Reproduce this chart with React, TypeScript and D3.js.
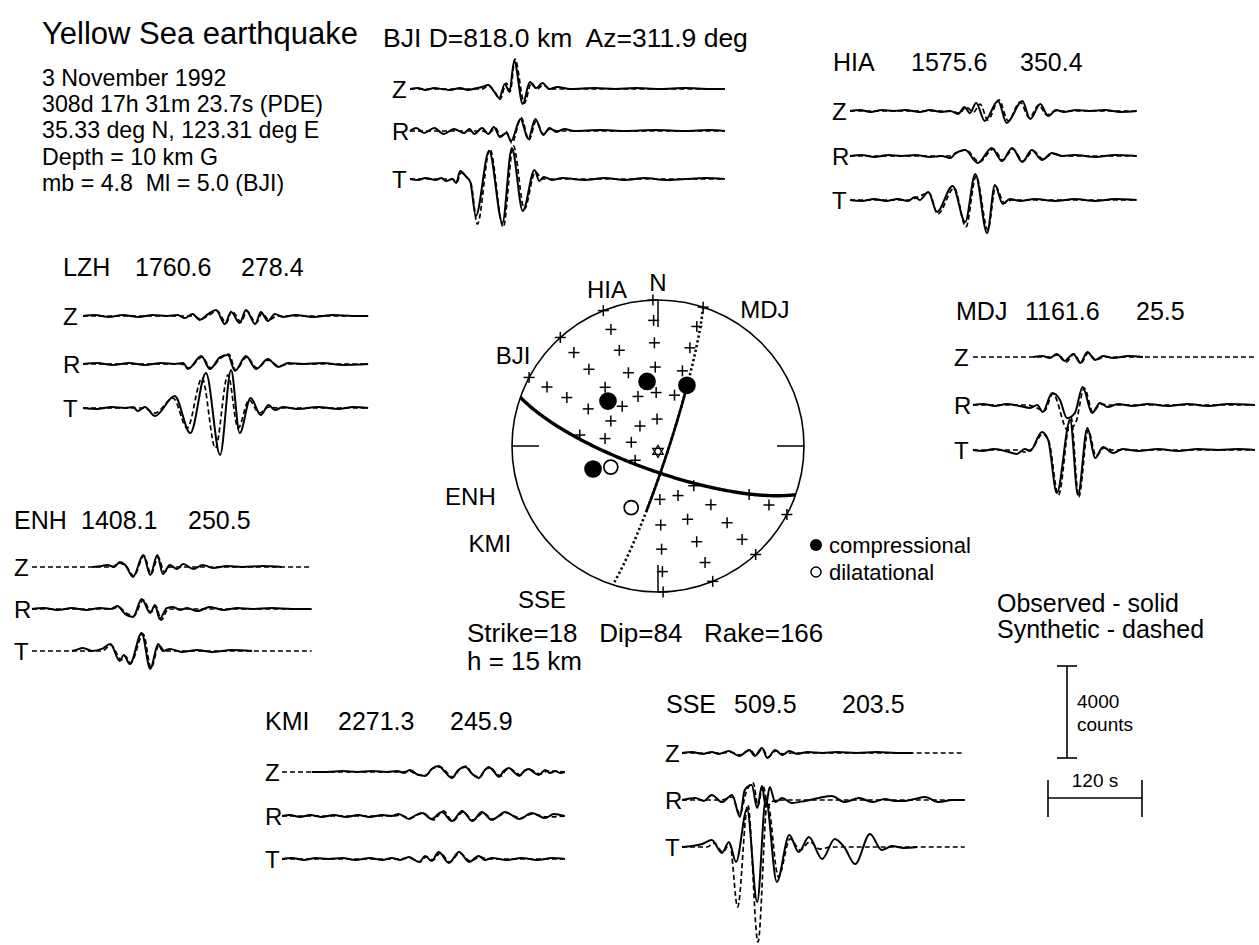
import React from "react";
import * as d3 from "d3";

// ---------------- event & mechanism ----------------
const TITLE = "Yellow Sea earthquake";
const EVENT_LINES = [
  "3 November 1992",
  "308d 17h 31m 23.7s (PDE)",
  "35.33 deg N, 123.31 deg E",
  "Depth = 10 km G",
  "mb = 4.8  Ml = 5.0 (BJI)",
];
const STRIKE = 18;
const DIP = 84;
const RAKE = 166;
const H_KM = 15;

// ---------------- stations ----------------
const STATION_CODES = ["BJI", "HIA", "LZH", "MDJ", "ENH", "KMI", "SSE"];
const DISTANCES = [818.0, 1575.6, 1760.6, 1161.6, 1408.1, 2271.3, 509.5];
const AZIMUTHS = [311.9, 350.4, 278.4, 25.5, 250.5, 245.9, 203.5];
const POLARITY = ["C", "C", "", "C", "C", "D", "D"];
const TAKEOFF = [38, 37, 0, 38, 39, 29, 38];
const COMPONENTS = ["Z", "R", "T"];

// grid of "+" readings: [azimuth deg, takeoff deg]
const PLUS_POINTS = [
  [18, 30], [18, 45], [18, 60], [18, 75], [18, 90],
  [358, 15], [358, 30], [358, 45], [358, 60], [358, 75], [358, 90],
  [338, 30], [338, 45], [338, 60], [338, 75], [338, 90],
  [318, 15], [318, 30], [318, 45], [318, 60], [318, 75], [318, 90],
  [298, 30], [298, 45], [298, 60], [298, 75], [298, 90],
  [278, 15], [278, 30], [278, 45], [238, 15],
  [178, 30], [178, 45], [178, 60], [178, 75], [178, 90],
  [158, 30], [158, 45], [158, 60], [158, 75], [158, 90],
  [138, 30], [138, 45], [138, 60], [138, 75], [138, 90],
  [118, 60], [118, 75], [118, 90],
];
const STAR_POINT = [180, 3];

// ---------------- waveforms: [time s, amplitude counts, ...] ----------------
const BJI_Z_OBS = [0,0, 10,40, 20,-40, 31,40, 41,0, 51,-40, 64,40, 74,-40, 84,30, 92,90, 100,170, 107,-90, 114,-390, 121,220, 127,-130, 133,1220, 144,-650, 153,300, 161,40, 169,260, 178,0, 188,90, 205,0, 236,40, 262,0, 287,40, 319,0, 351,40, 383,0, 402,0];
const BJI_Z_SYN = [0,0, 92,0, 100,130, 109,-170, 115,-440, 123,260, 128,-90, 134,1300, 146,-610, 155,260, 162,0, 170,170, 179,0, 402,0];
const BJI_R_OBS = [0,0, 8,130, 18,-90, 31,130, 43,-130, 56,90, 69,-90, 76,90, 82,-130, 92,130, 100,-130, 107,170, 115,-260, 123,-90, 129,-430, 141,520, 151,-350, 160,520, 170,-170, 178,130, 187,-40, 197,90, 210,0, 243,40, 274,0, 313,40, 351,0, 383,40, 402,0];
const BJI_R_SYN = [0,0, 92,0, 101,-90, 109,130, 116,-220, 123,-40, 130,-520, 142,570, 152,-390, 161,430, 170,-130, 179,90, 188,0, 402,0];
const BJI_T_OBS = [0,0, 10,-40, 20,40, 33,-40, 40,40, 46,-90, 54,0, 59,-170, 64,350, 72,90, 77,-130, 84,-1610, 101,1220, 118,-1910, 130,1350, 144,-1390, 159,390, 165,-90, 171,90, 181,-40, 194,40, 223,-40, 249,40, 274,-40, 300,40, 326,-40, 351,0, 377,40, 402,0];
const BJI_T_SYN = [0,0, 54,0, 60,-130, 65,260, 72,90, 78,-220, 86,-1960, 102,1300, 119,-2090, 132,1440, 146,-1300, 160,300, 169,0, 402,0];

const HIA_Z_OBS = [0,0, 13,40, 26,-40, 41,40, 56,0, 71,40, 89,-40, 102,40, 117,-40, 128,0, 138,-130, 146,170, 153,-90, 161,350, 172,-430, 189,430, 200,-520, 220,430, 230,-350, 243,300, 253,-220, 263,40, 273,-40, 289,40, 306,0, 326,40, 345,-40, 366,0];
const HIA_Z_SYN = [0,0, 128,0, 140,-90, 148,170, 158,-40, 166,300, 176,-390, 190,480, 202,-430, 217,390, 229,-300, 241,260, 251,-170, 263,0, 366,0];
const HIA_R_OBS = [0,0, 15,40, 31,-40, 49,40, 66,0, 84,40, 102,-40, 117,0, 128,-90, 134,90, 147,260, 163,-300, 181,350, 194,-220, 207,350, 220,-260, 232,260, 245,-170, 258,130, 271,0, 287,40, 313,-40, 338,40, 366,0];
const HIA_R_SYN = [0,0, 128,0, 135,130, 148,260, 165,-260, 183,300, 195,-170, 208,300, 221,-220, 234,220, 246,-130, 259,90, 271,0, 366,0];
const HIA_T_OBS = [0,0, 15,-40, 31,40, 46,-40, 61,40, 74,-40, 83,130, 89,0, 100,350, 111,-520, 131,610, 147,-960, 160,1130, 175,-1440, 185,650, 195,-170, 204,40, 217,-40, 236,40, 262,-40, 287,40, 313,-40, 338,40, 366,0];
const HIA_T_SYN = [0,0, 77,0, 84,90, 101,300, 112,-610, 133,520, 148,-1170, 161,1040, 176,-1300, 186,570, 197,-130, 207,0, 366,0];

const LZH_Z_OBS = [0,0, 15,40, 33,-40, 51,40, 71,-40, 89,40, 107,0, 121,40, 130,-90, 140,90, 149,-170, 160,90, 170,260, 181,-350, 189,170, 200,-300, 208,260, 220,-350, 227,170, 236,-220, 245,90, 255,-40, 271,40, 294,-40, 319,40, 345,0, 364,0];
const LZH_Z_SYN = [0,0, 140,0, 151,-130, 161,40, 171,220, 183,-300, 190,220, 202,-260, 209,220, 221,-300, 229,130, 237,-170, 248,0, 364,0];
const LZH_R_OBS = [0,0, 18,40, 38,-40, 59,40, 79,-40, 100,40, 117,0, 128,40, 134,-220, 151,350, 162,-220, 175,300, 185,390, 194,-300, 208,350, 221,-220, 236,220, 249,-130, 262,40, 281,0, 306,40, 332,-40, 364,0];
const LZH_R_SYN = [0,0, 125,0, 135,-170, 152,300, 163,-170, 176,260, 186,430, 195,-260, 209,300, 222,-170, 237,170, 250,-90, 263,0, 364,0];
const LZH_T_OBS = [0,0, 18,-40, 36,40, 54,0, 64,40, 70,-130, 79,40, 92,-350, 117,520, 137,-1090, 157,1520, 175,-2040, 189,1650, 200,-1090, 214,430, 227,-300, 237,130, 245,-90, 255,40, 274,-40, 300,40, 326,-40, 345,40, 364,0];
const LZH_T_SYN = [0,0, 77,0, 92,-220, 115,430, 133,-870, 152,1300, 169,-1740, 185,1440, 198,-870, 212,350, 225,-220, 237,40, 248,0, 364,0];

const MDJ_Z_OBS = [77,0, 89,40, 98,-40, 107,130, 117,-170, 128,130, 137,-260, 146,220, 156,-130, 166,40, 179,-40, 198,40, 217,0];
const MDJ_Z_SYN = [0,0, 96,0, 109,90, 119,-220, 129,130, 138,-260, 147,170, 157,-130, 167,0, 360,0];
const MDJ_R_OBS = [0,0, 13,40, 28,-40, 43,40, 59,-40, 73,-130, 82,0, 89,-300, 101,520, 111,220, 120,-570, 130,-350, 140,780, 152,-350, 162,90, 172,-90, 185,40, 204,-40, 223,40, 249,-40, 274,40, 300,-40, 326,40, 360,0];
const MDJ_R_SYN = [0,0, 70,0, 79,-90, 91,-260, 102,480, 121,-1090, 131,-780, 142,740, 153,-300, 163,40, 174,0, 360,0];
const MDJ_T_OBS = [0,0, 13,-40, 26,40, 41,-40, 56,-170, 66,40, 73,-40, 88,780, 96,430, 107,-1870, 124,1300, 134,-1960, 146,960, 156,-350, 166,130, 179,-130, 191,40, 211,-40, 236,40, 262,-40, 287,40, 313,0, 338,40, 360,0];
const MDJ_T_SYN = [0,0, 57,0, 66,-90, 75,40, 89,700, 97,350, 109,-1960, 125,1440, 135,-2040, 147,870, 157,-260, 167,90, 179,0, 360,0];

const ENH_Z_OBS = [77,0, 89,40, 96,90, 105,0, 112,220, 119,90, 129,-430, 142,520, 151,-350, 160,520, 167,-300, 176,90, 185,-90, 193,130, 206,-90, 218,90, 231,-40, 249,40, 268,0, 294,40, 319,0];
const ENH_Z_SYN = [0,0, 102,0, 111,170, 120,40, 130,-390, 143,480, 152,-300, 161,430, 169,-220, 176,0, 357,0];
const ENH_R_OBS = [0,0, 15,40, 33,-40, 51,40, 69,-40, 87,40, 100,0, 109,130, 119,-220, 129,-350, 140,430, 151,-170, 157,170, 163,-430, 172,40, 180,90, 189,-40, 198,40, 211,-90, 227,90, 245,-40, 262,40, 281,0, 306,40, 332,0, 357,0];
const ENH_R_SYN = [0,0, 102,0, 110,90, 120,-170, 130,-300, 142,390, 152,-130, 158,130, 165,-480, 174,0, 357,0];
const ENH_T_OBS = [51,0, 56,40, 65,130, 77,0, 89,90, 100,300, 112,-430, 117,-170, 125,-570, 140,780, 151,-780, 161,300, 167,0, 176,90, 191,-40, 211,40, 230,-40, 255,40, 281,0];
const ENH_T_SYN = [0,0, 89,0, 101,260, 114,-390, 119,-220, 126,-520, 142,740, 152,-740, 162,260, 169,0, 357,0];

const KMI_Z_OBS = [38,0, 57,0, 77,40, 96,0, 115,40, 134,0, 147,40, 156,-40, 163,90, 172,-90, 183,-170, 191,130, 200,260, 208,0, 217,-260, 225,90, 234,220, 243,-90, 251,-260, 258,40, 264,220, 271,0, 277,-220, 283,40, 290,170, 296,0, 303,-170, 309,40, 315,130, 322,-40, 328,-130, 336,90, 342,-40, 349,40, 355,-40, 361,0];
const KMI_Z_SYN = [0,0, 153,0, 163,40, 174,-130, 184,-130, 193,170, 202,220, 211,-40, 218,-220, 227,130, 235,260, 244,-130, 253,-220, 260,130, 267,170, 273,-40, 280,-170, 286,90, 292,130, 299,-40, 305,-130, 311,90, 318,90, 324,-40, 331,-90, 338,40, 361,0];
const KMI_R_OBS = [0,0, 10,40, 23,-40, 36,40, 51,-40, 66,40, 82,-40, 97,40, 112,-40, 128,40, 140,0, 149,90, 162,-130, 171,40, 179,130, 191,-130, 204,170, 217,-220, 230,220, 243,-220, 255,170, 268,-170, 285,170, 303,-130, 319,130, 336,-90, 347,90, 361,0];
const KMI_R_SYN = [0,0, 140,0, 151,40, 163,-90, 172,40, 180,130, 193,-170, 206,220, 218,-220, 231,170, 244,-170, 257,130, 269,-130, 286,130, 304,-90, 320,90, 337,-40, 361,0];
const KMI_T_OBS = [0,0, 13,40, 28,-40, 43,40, 59,0, 77,40, 94,-40, 112,40, 128,-40, 140,40, 151,-40, 162,90, 175,-130, 183,130, 191,-90, 200,300, 213,-170, 226,300, 239,-130, 251,130, 259,-40, 268,40, 287,-40, 306,40, 326,-40, 345,40, 361,0];
const KMI_T_SYN = [0,0, 147,0, 163,40, 176,-130, 184,90, 193,-40, 202,260, 214,-130, 227,260, 240,-90, 253,90, 262,0, 361,0];

const SSE_Z_OBS = [0,0, 13,40, 26,-40, 38,40, 47,-40, 60,90, 73,-130, 86,130, 93,-130, 102,220, 109,-220, 119,130, 128,-90, 137,90, 147,-40, 160,40, 179,0, 198,40, 223,0, 249,40, 274,0, 294,0];
const SSE_Z_SYN = [0,0, 51,0, 61,40, 74,-90, 87,130, 94,-90, 103,170, 110,-170, 120,90, 129,-40, 140,0, 361,0];
const SSE_R_OBS = [0,0, 17,90, 28,-40, 38,220, 51,-90, 64,220, 74,-740, 80,430, 89,650, 96,-350, 102,610, 107,-300, 112,570, 119,-90, 128,90, 140,-130, 157,-40, 175,90, 191,170, 208,-90, 226,90, 243,-90, 259,40, 272,-40, 285,-40, 297,40, 310,130, 328,-90, 345,0, 361,0];
const SSE_R_SYN = [0,0, 51,0, 64,130, 74,-610, 82,350, 91,740, 97,-260, 103,650, 110,-220, 117,-40, 128,0, 361,0];
const SSE_T_OBS = [0,0, 13,40, 26,130, 38,300, 51,-260, 60,220, 69,-650, 83,1650, 96,-2390, 107,2090, 121,-1520, 137,520, 149,-220, 162,430, 179,-520, 195,350, 207,0, 221,-740, 240,570, 255,-130, 268,40, 283,-40, 300,0];
const SSE_T_SYN = [0,0, 32,0, 41,170, 52,-220, 61,130, 71,-2610, 84,1830, 97,-4130, 109,1960, 123,-1300, 138,350, 151,-130, 163,220, 176,-90, 191,0, 361,0];

const WAVES: Record<string, number[][]> = {
  BJI: [BJI_Z_OBS, BJI_Z_SYN, BJI_R_OBS, BJI_R_SYN, BJI_T_OBS, BJI_T_SYN],
  HIA: [HIA_Z_OBS, HIA_Z_SYN, HIA_R_OBS, HIA_R_SYN, HIA_T_OBS, HIA_T_SYN],
  LZH: [LZH_Z_OBS, LZH_Z_SYN, LZH_R_OBS, LZH_R_SYN, LZH_T_OBS, LZH_T_SYN],
  MDJ: [MDJ_Z_OBS, MDJ_Z_SYN, MDJ_R_OBS, MDJ_R_SYN, MDJ_T_OBS, MDJ_T_SYN],
  ENH: [ENH_Z_OBS, ENH_Z_SYN, ENH_R_OBS, ENH_R_SYN, ENH_T_OBS, ENH_T_SYN],
  KMI: [KMI_Z_OBS, KMI_Z_SYN, KMI_R_OBS, KMI_R_SYN, KMI_T_OBS, KMI_T_SYN],
  SSE: [SSE_Z_OBS, SSE_Z_SYN, SSE_R_OBS, SSE_R_SYN, SSE_T_OBS, SSE_T_SYN],
};

// scale bar values
const SCALE_COUNTS = 4000;
const SCALE_SECONDS = 120;

// ---------------- layout (pixels) ----------------
const PX_PER_SEC = 94 / 120;
const PX_PER_COUNT = 92 / 4000;
const FONT = "'Liberation Sans', Arial, Helvetica, sans-serif";
const HEAD_FS = 25;
const LABEL_FS = 24;

type Lay = { hx: number[]; hy: number; lx: number; x0: number; ys: number[]; fs?: number };
const LAYOUT: Record<string, Lay> = {
  BJI: { hx: [383], hy: 47, lx: 392, x0: 410, ys: [89, 131, 179], fs: 26.5 },
  HIA: { hx: [833, 911, 1020], hy: 71, lx: 832, x0: 850, ys: [111, 156, 200] },
  LZH: { hx: [63, 135, 241], hy: 276, lx: 63, x0: 83, ys: [316, 364, 408] },
  MDJ: { hx: [956, 1025, 1136], hy: 320, lx: 954, x0: 973, ys: [357, 405, 450] },
  ENH: { hx: [14, 81, 188], hy: 529, lx: 14, x0: 32, ys: [567, 609, 651] },
  KMI: { hx: [265, 338, 450], hy: 730, lx: 265, x0: 282, ys: [772, 816, 859] },
  SSE: { hx: [666, 734, 842], hy: 713, lx: 665, x0: 682, ys: [753, 800, 847] },
};

const CX = 658, CY = 446, RAD = 146;
const SPHERE_LABELS: [string, number, number][] = [
  ["N", 0, 1.12], ["HIA", 342, 1.13], ["MDJ", 38, 1.19], ["BJI", 302, 1.17],
  ["ENH", 255, 1.33], ["KMI", 240, 1.33], ["SSE", 217, 1.32],
];

const rad = Math.PI / 180;

function proj(az: number, inc: number): [number, number] {
  const R = RAD * Math.SQRT2 * Math.sin((inc * rad) / 2);
  return [CX + R * Math.sin(az * rad), CY - R * Math.cos(az * rad)];
}
function projVec(v: number[]): [number, number] {
  let [n, e, d] = v;
  if (d < 0) { n = -n; e = -e; d = -d; }
  const plunge = Math.asin(Math.min(1, d)) / rad;
  const trend = Math.atan2(e, n) / rad;
  return proj(trend, 90 - plunge);
}
function planePoints(strike: number, dip: number, t0: number, t1: number) {
  const s = [Math.cos(strike * rad), Math.sin(strike * rad), 0];
  const dd = [-Math.cos(dip * rad) * Math.sin(strike * rad), Math.cos(dip * rad) * Math.cos(strike * rad), Math.sin(dip * rad)];
  const pts: [number, number][] = [];
  for (let t = t0; t <= t1 + 1e-9; t += 1) {
    const c = Math.cos(t * rad), si = Math.sin(t * rad);
    pts.push(projVec([c * s[0] + si * dd[0], c * s[1] + si * dd[1], c * s[2] + si * dd[2]]));
  }
  return pts;
}
function auxPlane(strike: number, dip: number, rake: number) {
  const f = strike * rad, dl = dip * rad, l = rake * rad;
  let dN = Math.cos(l) * Math.cos(f) + Math.sin(l) * Math.cos(dl) * Math.sin(f);
  let dE = Math.cos(l) * Math.sin(f) - Math.sin(l) * Math.cos(dl) * Math.cos(f);
  let dZ = -Math.sin(l) * Math.sin(dl);
  if (dZ > 0) { dN = -dN; dE = -dE; dZ = -dZ; }
  const dip2 = Math.acos(-dZ) / rad;
  let str2 = Math.atan2(-dN, dE) / rad;
  if (str2 < 0) str2 += 360;
  return [str2, dip2];
}

const toPairs = (a: number[]) => {
  const out: [number, number][] = [];
  for (let i = 0; i < a.length; i += 2) out.push([a[i], a[i + 1]]);
  return out;
};

function Station({ code, idx }: { code: string; idx: number }) {
  const L = LAYOUT[code];
  const x = d3.scaleLinear().domain([0, 120]).range([L.x0, L.x0 + 120 * PX_PER_SEC]);
  const headerParts =
    L.hx.length === 1
      ? [`${code} D=${DISTANCES[idx].toFixed(1)} km  Az=${AZIMUTHS[idx].toFixed(1)} deg`]
      : [code, DISTANCES[idx].toFixed(1), AZIMUTHS[idx].toFixed(1)];
  const w = WAVES[code];
  return (
    <g>
      {headerParts.map((t, i) => (
        <text key={i} x={L.hx[i]} y={L.hy} fontSize={L.fs || HEAD_FS} style={{ whiteSpace: "pre" }}>{t}</text>
      ))}
      {COMPONENTS.map((c, ci) => {
        const base = L.ys[ci];
        const y = d3.scaleLinear().domain([0, 4000]).range([base, base - 4000 * PX_PER_COUNT]);
        const line = d3.line<[number, number]>().x((d) => x(d[0])).y((d) => y(d[1])).curve(d3.curveMonotoneX);
        return (
          <g key={c}>
            <text x={L.lx} y={base + 8.5} fontSize={LABEL_FS}>{c}</text>
            <path d={line(toPairs(w[ci * 2 + 1])) || ""} fill="none" stroke="#000" strokeWidth={1.7} strokeDasharray="5 3" />
            <path d={line(toPairs(w[ci * 2])) || ""} fill="none" stroke="#000" strokeWidth={2} />
          </g>
        );
      })}
    </g>
  );
}

function Sphere() {
  const [str2, dip2] = auxPlane(STRIKE, DIP, RAKE);
  const lin = d3.line<[number, number]>();
  const p1 = planePoints(STRIKE, DIP, 0, 180);
  const p1solid = planePoints(STRIKE, DIP, 53, 127);
  const p2 = planePoints(str2, dip2, 0, 180);
  const star = (() => {
    const [sx, sy] = proj(STAR_POINT[0], STAR_POINT[1]);
    const tri = (o: number) =>
      d3.range(3).map((k) => {
        const a = (o + k * 120) * rad;
        return [sx + 6 * Math.sin(a), sy - 6 * Math.cos(a)] as [number, number];
      });
    return [tri(0), tri(180)];
  })();
  return (
    <g>
      <circle cx={CX} cy={CY} r={RAD} fill="none" stroke="#000" strokeWidth={1.6} />
      {[0, 90, 180, 270].map((a) => {
        const [x1, y1] = proj(a, 90);
        const s = (RAD - 27) / RAD;
        return <line key={a} x1={x1} y1={y1} x2={CX + (x1 - CX) * s} y2={CY + (y1 - CY) * s} stroke="#000" strokeWidth={1.5} />;
      })}
      <path d={lin(p1) || ""} fill="none" stroke="#000" strokeWidth={2.6} strokeDasharray="2.2 2.6" />
      <path d={lin(p1solid) || ""} fill="none" stroke="#000" strokeWidth={2.6} />
      <path d={lin(p2) || ""} fill="none" stroke="#000" strokeWidth={3.4} />
      {PLUS_POINTS.map(([az, inc], i) => {
        const [px, py] = proj(az, inc);
        return (
          <g key={i} stroke="#000" strokeWidth={1.5}>
            <line x1={px - 5.5} x2={px + 5.5} y1={py} y2={py} />
            <line x1={px} x2={px} y1={py - 5.5} y2={py + 5.5} />
          </g>
        );
      })}
      {star.map((t, i) => (
        <polygon key={i} points={t.map((p) => p.join(",")).join(" ")} fill="none" stroke="#000" strokeWidth={1.3} />
      ))}
      {STATION_CODES.map((c, i) => {
        if (!POLARITY[i]) return null;
        const [px, py] = proj(AZIMUTHS[i], TAKEOFF[i]);
        const comp = POLARITY[i] === "C";
        return <circle key={c} cx={px} cy={py} r={comp ? 8 : 7} fill={comp ? "#000" : "#fff"} stroke="#000" strokeWidth={1.7} />;
      })}
      {SPHERE_LABELS.map(([t, a, f]) => (
        <text key={t} x={CX + RAD * f * Math.sin(a * rad)} y={CY - RAD * f * Math.cos(a * rad)} fontSize={24} textAnchor="middle" dominantBaseline="central">{t}</text>
      ))}
    </g>
  );
}

export default function App() {
  const sbY = d3.scaleLinear().domain([0, SCALE_COUNTS]).range([758, 758 - SCALE_COUNTS * PX_PER_COUNT]);
  const sbX = d3.scaleLinear().domain([0, SCALE_SECONDS]).range([1048, 1048 + SCALE_SECONDS * PX_PER_SEC]);
  return (
    <svg width={1259} height={945} style={{ position: "absolute", left: 0, top: 0, background: "#fff" }} fontFamily={FONT} fill="#000">
      <rect x={0} y={0} width={1259} height={945} fill="#fff" />
      <text x={42} y={44} fontSize={31}>{TITLE}</text>
      {EVENT_LINES.map((t, i) => (
        <text key={i} x={42} y={86 + i * 26.2} fontSize={23.2} style={{ whiteSpace: "pre" }}>{t}</text>
      ))}
      {STATION_CODES.map((c, i) => <Station key={c} code={c} idx={i} />)}
      <Sphere />
      {/* legend */}
      <circle cx={816} cy={545} r={6} fill="#000" />
      <text x={829} y={553} fontSize={22}>compressional</text>
      <circle cx={816} cy={572} r={5} fill="#fff" stroke="#000" strokeWidth={1.5} />
      <text x={829} y={580} fontSize={22}>dilatational</text>
      <text x={467} y={642} fontSize={26} style={{ whiteSpace: "pre" }}>{`Strike=${STRIKE}   Dip=${DIP}   Rake=${RAKE}`}</text>
      <text x={467} y={670} fontSize={26}>{`h = ${H_KM} km`}</text>
      <text x={997} y={612} fontSize={25}>Observed - solid</text>
      <text x={997} y={638} fontSize={25}>Synthetic - dashed</text>
      {/* scale bars */}
      <g stroke="#000" strokeWidth={1.6}>
        <line x1={1067} x2={1067} y1={sbY(0)} y2={sbY(SCALE_COUNTS)} />
        <line x1={1057} x2={1077} y1={sbY(0)} y2={sbY(0)} />
        <line x1={1057} x2={1077} y1={sbY(SCALE_COUNTS)} y2={sbY(SCALE_COUNTS)} />
        <line x1={sbX(0)} x2={sbX(SCALE_SECONDS)} y1={798} y2={798} />
        <line x1={sbX(0)} x2={sbX(0)} y1={780} y2={817} />
        <line x1={sbX(SCALE_SECONDS)} x2={sbX(SCALE_SECONDS)} y1={780} y2={817} />
      </g>
      <text x={1077} y={708} fontSize={19}>{SCALE_COUNTS}</text>
      <text x={1077} y={731} fontSize={19}>counts</text>
      <text x={sbX(SCALE_SECONDS / 2)} y={787} fontSize={19} textAnchor="middle">{`${SCALE_SECONDS} s`}</text>
    </svg>
  );
}
